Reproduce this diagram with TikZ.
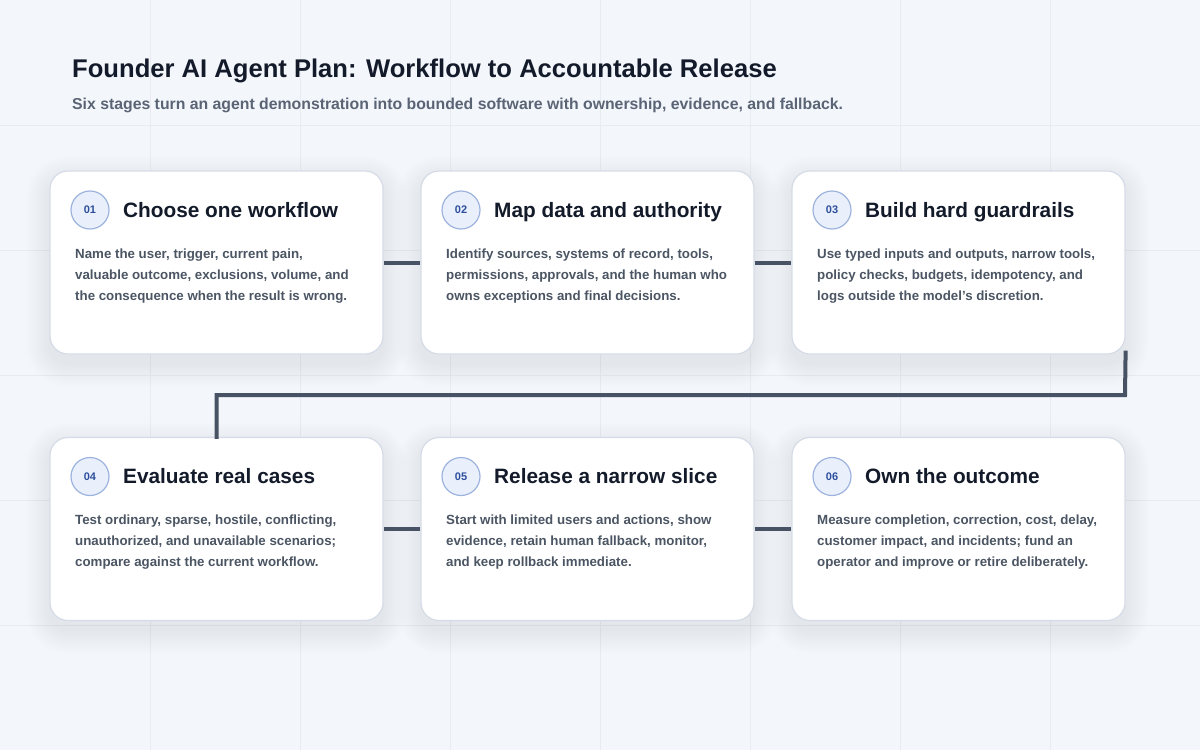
\documentclass[tikz,border=0pt]{standalone}
\usepackage{fontspec}
\setmainfont{Liberation Sans}
\definecolor{bg}{HTML}{F3F6FB}
\definecolor{gridc}{HTML}{E8ECF2}
\definecolor{cardborder}{HTML}{D6DCE7}
\definecolor{titlec}{HTML}{131A2A}
\definecolor{subc}{HTML}{5A6475}
\definecolor{bodyc}{HTML}{4B5563}
\definecolor{linkc}{HTML}{475265}
\definecolor{numfill}{HTML}{E9F0FC}
\definecolor{numborder}{HTML}{9DB3DE}
\definecolor{numtext}{HTML}{2C4E9C}
\definecolor{shadowc}{HTML}{2A3450}
\tikzset{
  card/.style={draw=cardborder, line width=1.2pt, fill=white, rounded corners=18pt,
    minimum width=333pt, minimum height=183pt, inner sep=0pt},
  numcirc/.style={circle, draw=numborder, line width=1.2pt, fill=numfill, minimum size=38pt, inner sep=0pt,
    font=\fontsize{11}{11}\selectfont\bfseries, text=numtext},
  cardtitle/.style={anchor=base west, inner sep=0pt, font=\fontsize{20.8}{20.8}\selectfont\bfseries, text=titlec},
  cardbody/.style={anchor=base west, inner sep=0pt, align=left, font=\fontsize{13.3}{21}\selectfont\bfseries, text=bodyc},
  link/.style={draw=linkc, line width=4pt},
}
\newcommand\softshadow[2]{%
  \foreach \s in {1,...,16}{%
    \pgfmathsetmacro\rr{18+1.5*\s}%
    \fill[shadowc, opacity=0.0048, rounded corners=\rr pt]
      ({#1-166.5-1.5*\s},{#2-91.5-1.5*\s+9}) rectangle ({#1+166.5+1.5*\s},{#2+91.5+1.5*\s+9});
  }%
}
\begin{document}
\begin{tikzpicture}[x=1pt,y=-1pt]
\fill[bg] (0,0) rectangle (1200,750);
\useasboundingbox (0,0) rectangle (1200,750);
\foreach \gx in {150,300,...,1050} \draw[gridc, line width=1pt] (\gx,0) -- (\gx,750);
\foreach \gy in {125,250,...,625} \draw[gridc, line width=1pt] (0,\gy) -- (1200,\gy);

\node[anchor=base west, inner sep=0pt, font=\fontsize{25.6}{25.6}\selectfont\bfseries, text=titlec] (title) at (72,77) {Founder AI Agent Plan: Workflow to Accountable Release};
\node[anchor=base west, inner sep=0pt, font=\fontsize{15.8}{15.8}\selectfont\bfseries, text=subc] (subtitle) at (72,109) {Six stages turn an agent demonstration into bounded software with ownership, evidence, and fallback.};

% shadows
\softshadow{216.5}{262.5}
\softshadow{587.5}{262.5}
\softshadow{958.5}{262.5}
\softshadow{216.5}{529}
\softshadow{587.5}{529}
\softshadow{958.5}{529}

% cards
\node[card] (c1) at (216.5,262.5) {};
\node[card] (c2) at (587.5,262.5) {};
\node[card] (c3) at (958.5,262.5) {};
\node[card] (c4) at (216.5,529) {};
\node[card] (c5) at (587.5,529) {};
\node[card] (c6) at (958.5,529) {};

% connectors
\draw[link] (c1.east) -- (c2.west);
\draw[link] (c2.east) -- (c3.west);
\coordinate (bend) at (1125,395);
\draw[link, line cap=rect] ([yshift=2pt]c3.south east) -- (bend) -| (c4.north);
\draw[link] (c4.east) -- (c5.west);
\draw[link] (c5.east) -- (c6.west);

% card 1
\node[numcirc] (n1) at (90,210) {01};
\node[cardtitle] (t1) at (123,217) {Choose one workflow};
\node[cardbody] (b1) at (75,300) {Name the user, trigger, current pain,\\valuable outcome, exclusions, volume, and\\the consequence when the result is wrong.};
% card 2
\node[numcirc] (n2) at (461,210) {02};
\node[cardtitle] (t2) at (494,217) {Map data and authority};
\node[cardbody] (b2) at (446,300) {Identify sources, systems of record, tools,\\permissions, approvals, and the human who\\owns exceptions and final decisions.};
% card 3
\node[numcirc] (n3) at (832,210) {03};
\node[cardtitle] (t3) at (865,217) {Build hard guardrails};
\node[cardbody] (b3) at (817,300) {Use typed inputs and outputs, narrow tools,\\policy checks, budgets, idempotency, and\\logs outside the model’s discretion.};
% card 4
\node[numcirc] (n4) at (90,476.5) {04};
\node[cardtitle] (t4) at (123,483.5) {Evaluate real cases};
\node[cardbody] (b4) at (75,566.5) {Test ordinary, sparse, hostile, conflicting,\\unauthorized, and unavailable scenarios;\\compare against the current workflow.};
% card 5
\node[numcirc] (n5) at (461,476.5) {05};
\node[cardtitle] (t5) at (494,483.5) {Release a narrow slice};
\node[cardbody] (b5) at (446,566.5) {Start with limited users and actions, show\\evidence, retain human fallback, monitor,\\and keep rollback immediate.};
% card 6
\node[numcirc] (n6) at (832,476.5) {06};
\node[cardtitle] (t6) at (865,483.5) {Own the outcome};
\node[cardbody] (b6) at (817,566.5) {Measure completion, correction, cost, delay,\\customer impact, and incidents; fund an\\operator and improve or retire deliberately.};
\end{tikzpicture}
\end{document}
